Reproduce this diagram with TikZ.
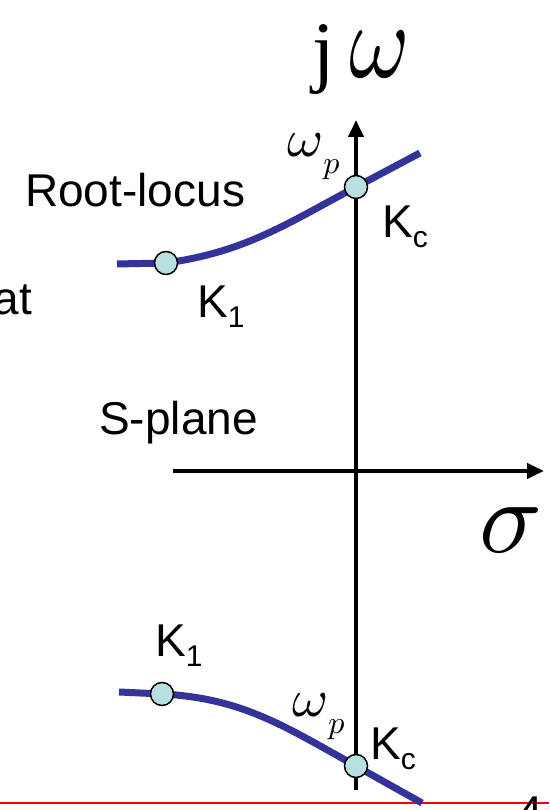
\documentclass[tikz,border=0pt]{standalone}
\usepackage{graphicx}
\usepackage{fontspec}
\setmainfont{Liberation Sans}
\newfontfamily\timesfont{Liberation Serif}
\usetikzlibrary{positioning,arrows.meta}

\definecolor{locusblue}{RGB}{51,51,153}
\definecolor{kfill}{RGB}{184,224,226}
\newcommand{\ksub}[1]{\raisebox{-10pt}{\fontsize{30}{30}\selectfont #1}}
\newcommand{\bigmath}[3]{\scalebox{#1}[#2]{$#3$}}

\tikzset{
  axis/.style={line width=4pt, -{Triangle[length=17pt,width=15pt]}},
  locus/.style={line width=7pt, draw=locusblue},
  kpoint/.style={circle, draw=black, line width=1.5pt, fill=kfill, minimum size=23pt, inner sep=0pt},
  lbl/.style={inner sep=0pt, anchor=base west, font=\fontsize{46}{46}\selectfont},
  greek/.style={inner sep=0pt, anchor=base west}
}

\begin{document}
\begin{tikzpicture}[x=1pt,y=1pt]
  \useasboundingbox (0,0) rectangle (549,810);
  \clip (0,0) rectangle (549,810);

  % Footer line and page number
  \coordinate (footl) at (0,7);
  \coordinate (footr) at (549,7);
  \draw[red, line width=2pt] (footl) -- (footr);
  \node[lbl] (pagenum) at (517,-18) {4};

  % Axes of the s-plane
  \coordinate (sigl) at (173,339);
  \coordinate (sigr) at (544,339);
  \coordinate (jwb) at (356,20);
  \coordinate (jwt) at (356,690);
  \draw[axis] (sigl) -- (sigr);
  \draw[axis] (jwb) -- (jwt);
  \node[greek] (jw) at (312,732) {{\fontsize{80}{80}\selectfont\timesfont j}\hspace{15pt}\bigmath{9.2}{10.7}{\omega}};
  \node[greek] (sigma) at (479,257) {\bigmath{10.4}{10.4}{\sigma}};

  % Upper branch
  \coordinate (upstart) at (117,546);
  \coordinate (upk1) at (166,547);
  \coordinate (upkc) at (356,623);
  \coordinate (upend) at (420,657);
  \draw[locus] (upstart) -- (upk1) to[out=8,in=208] (upkc) -- (upend);
  \node[kpoint] (k1up) at (upk1) {};
  \node[kpoint] (kcup) at (upkc) {};

  % Lower branch
  \coordinate (dnstart) at (119,118);
  \coordinate (dnk1) at (162,116);
  \coordinate (dnkc) at (356,44);
  \coordinate (dnend) at (422,7);
  \draw[locus] (dnstart) -- (dnk1) to[out=-3,in=151] (dnkc) -- (dnend);
  \node[kpoint] (k1dn) at (dnk1) {};
  \node[kpoint] (kcdn) at (dnkc) {};

  % Labels
  \node[lbl] (rootlocus) at (25,603) {Root-locus};
  \node[lbl, anchor=base east] (atlbl) at (32,495) {at};
  \node[lbl, anchor=base east] (splane) at (258,375) {S-plane};
  \node[lbl] (k1uplbl) at (197,492) {K\ksub{1}};
  \node[lbl] (kcuplbl) at (382,572) {K\ksub{c}};
  \node[lbl] (k1dnlbl) at (155,153) {K\ksub{1}};
  \node[lbl] (kcdnlbl) at (370,50) {K\ksub{c}};
  \node[greek] (wpup) at (287,653) {\bigmath{5.5}{5.3}{\omega}\raisebox{-17pt}{\bigmath{3.2}{3.2}{p}}};
  \node[greek] (wpdn) at (292,93) {\bigmath{5.5}{5.3}{\omega}\raisebox{-17pt}{\bigmath{3.2}{3.2}{p}}};
\end{tikzpicture}
\end{document}
